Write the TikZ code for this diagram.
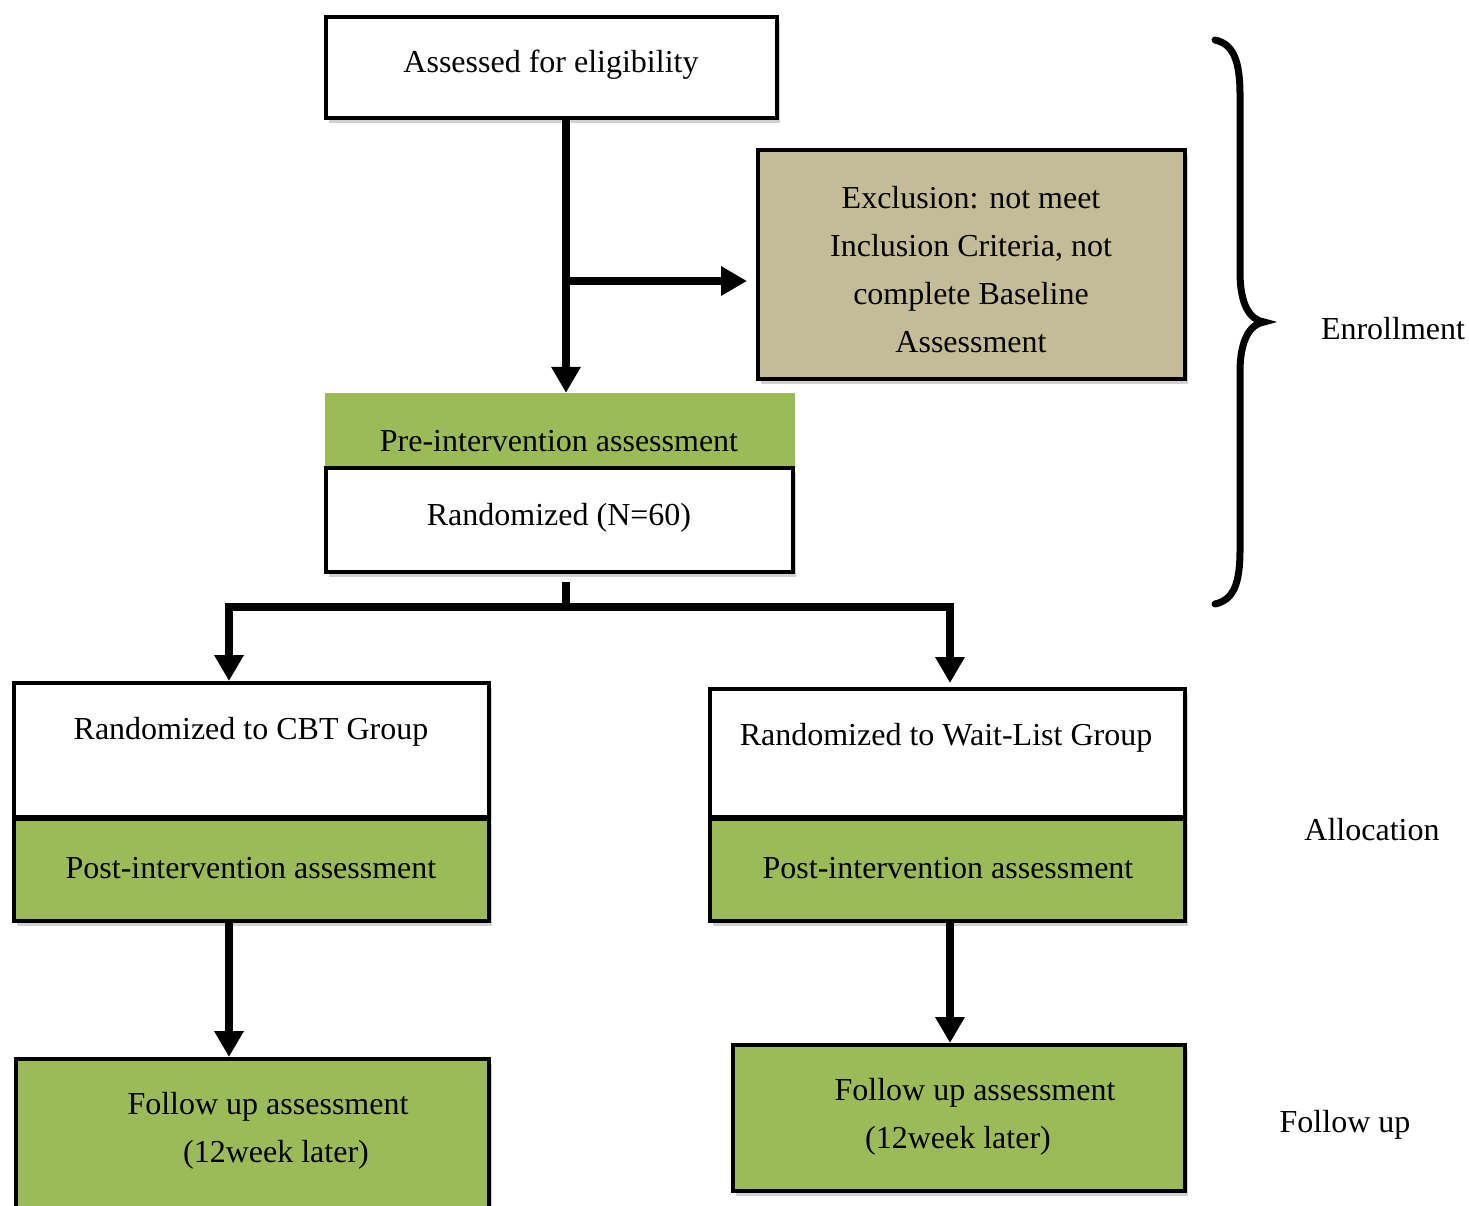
\documentclass[tikz,border=0pt]{standalone}
\usepackage{fontspec}
\setmainfont{Liberation Serif}
\usetikzlibrary{arrows.meta,shadows,calc}
\definecolor{olivegreen}{HTML}{9BBB59}
\definecolor{tan}{HTML}{C4BC96}
\begin{document}
\begin{tikzpicture}[x=1pt,y=-1pt,
  every node/.style={font=\fontsize{32}{48}\selectfont},
  box/.style={draw=black, line width=4pt, inner sep=0pt, rectangle,
    drop shadow={shadow xshift=3pt, shadow yshift=-5pt, fill=black!18, opacity=1}},
  plainbox/.style={fill=olivegreen, inner sep=0pt, rectangle},
  txt/.style={inner sep=0pt, anchor=center},
  conn/.style={line width=8pt},
  arr/.style={line width=8pt, -{Triangle[width=28pt,length=26pt]}},
  arrb/.style={line width=8pt, {Triangle[width=28pt,length=26pt]}-{Triangle[width=28pt,length=26pt]}},
  brace/.style={line width=7pt, line cap=round}]
\useasboundingbox (0,0) rectangle (1469,1206);
\fill[white] (0,0) rectangle (1469,1206);

% boxes
\node[box, fill=white, minimum width=451pt, minimum height=101pt] (elig) at (551.5,67.5) {};
\node[box, fill=tan, minimum width=427pt, minimum height=229pt] (excl) at (971.5,264.5) {};
\node[plainbox, minimum width=470pt, minimum height=74pt] (pre) at (560,430) {};
\node[box, fill=white, minimum width=467pt, minimum height=104pt] (rand) at (559.5,520) {};
\node[box, fill=white, minimum width=475pt, minimum height=134pt] (cbt) at (251.5,750) {};
\node[box, fill=olivegreen, minimum width=475pt, minimum height=102pt] (cbtpost) at (251.5,870) {};
\node[box, fill=white, minimum width=475pt, minimum height=128pt] (wait) at (947.5,753) {};
\node[box, fill=olivegreen, minimum width=475pt, minimum height=102pt] (waitpost) at (947.5,870) {};
\node[box, fill=olivegreen, minimum width=473pt, minimum height=170pt] (fuL) at (252.5,1144) {};
\node[box, fill=olivegreen, minimum width=452pt, minimum height=146pt] (fuR) at (959,1118) {};

% texts
\node[txt] (t1) at (551,65) {Assessed for eligibility};
\node[txt, align=center] (t2) at (971,270) {Exclusion: not meet\\Inclusion Criteria, not\\complete Baseline\\Assessment};
\node[txt] (t3) at (559,441) {Pre-intervention assessment};
\node[txt] (t4) at (559,518) {Randomized (N=60)};
\node[txt] (t5) at (251,732) {Randomized to CBT Group};
\node[txt] (t6) at (946,738) {Randomized to Wait-List Group};
\node[txt] (t7) at (251,868) {Post-intervention assessment};
\node[txt] (t8) at (948,868) {Post-intervention assessment};
\node[txt] (t9) at (268,1107) {Follow up assessment};
\node[txt] (t10) at (276,1155) {(12week later)};
\node[txt] (t11) at (975,1093) {Follow up assessment};
\node[txt] (t12) at (958,1141) {(12week later)};
\node[txt] (enr) at (1393,329) {Enrollment};
\node[txt] (alloc) at (1372,830) {Allocation};
\node[txt] (fol) at (1345,1125) {Follow up};

% connectors
\coordinate (jx) at (566,281);
\coordinate (split) at (566,607);
\coordinate (L) at (229,607);
\coordinate (R) at (950,607);
\draw[arr] (elig.south -| jx) -- (pre.north -| jx);
\draw[arr, shorten >=9pt] (jx) -- (excl.west |- jx);
\draw[conn] ($(rand.south -| split)+(0,8)$) -- (split);
\draw[arrb] (L |- cbt.north) -- (L) -- (R) -- ($(R |- wait.north)+(0,-4)$);
\draw[arr] (cbtpost.south -| L) -- (fuL.north -| L);
\draw[arr] (waitpost.south -| R) -- (fuR.north -| R);

% brace
\draw[brace] (1215,40) .. controls (1233,44) and (1240,60) .. (1240,95)
  -- (1240,272) .. controls (1240,305) and (1250,320) .. (1264,322)
  .. controls (1250,324) and (1240,340) .. (1240,372)
  -- (1240,550) .. controls (1240,585) and (1233,600) .. (1215,604);
\end{tikzpicture}
\end{document}
